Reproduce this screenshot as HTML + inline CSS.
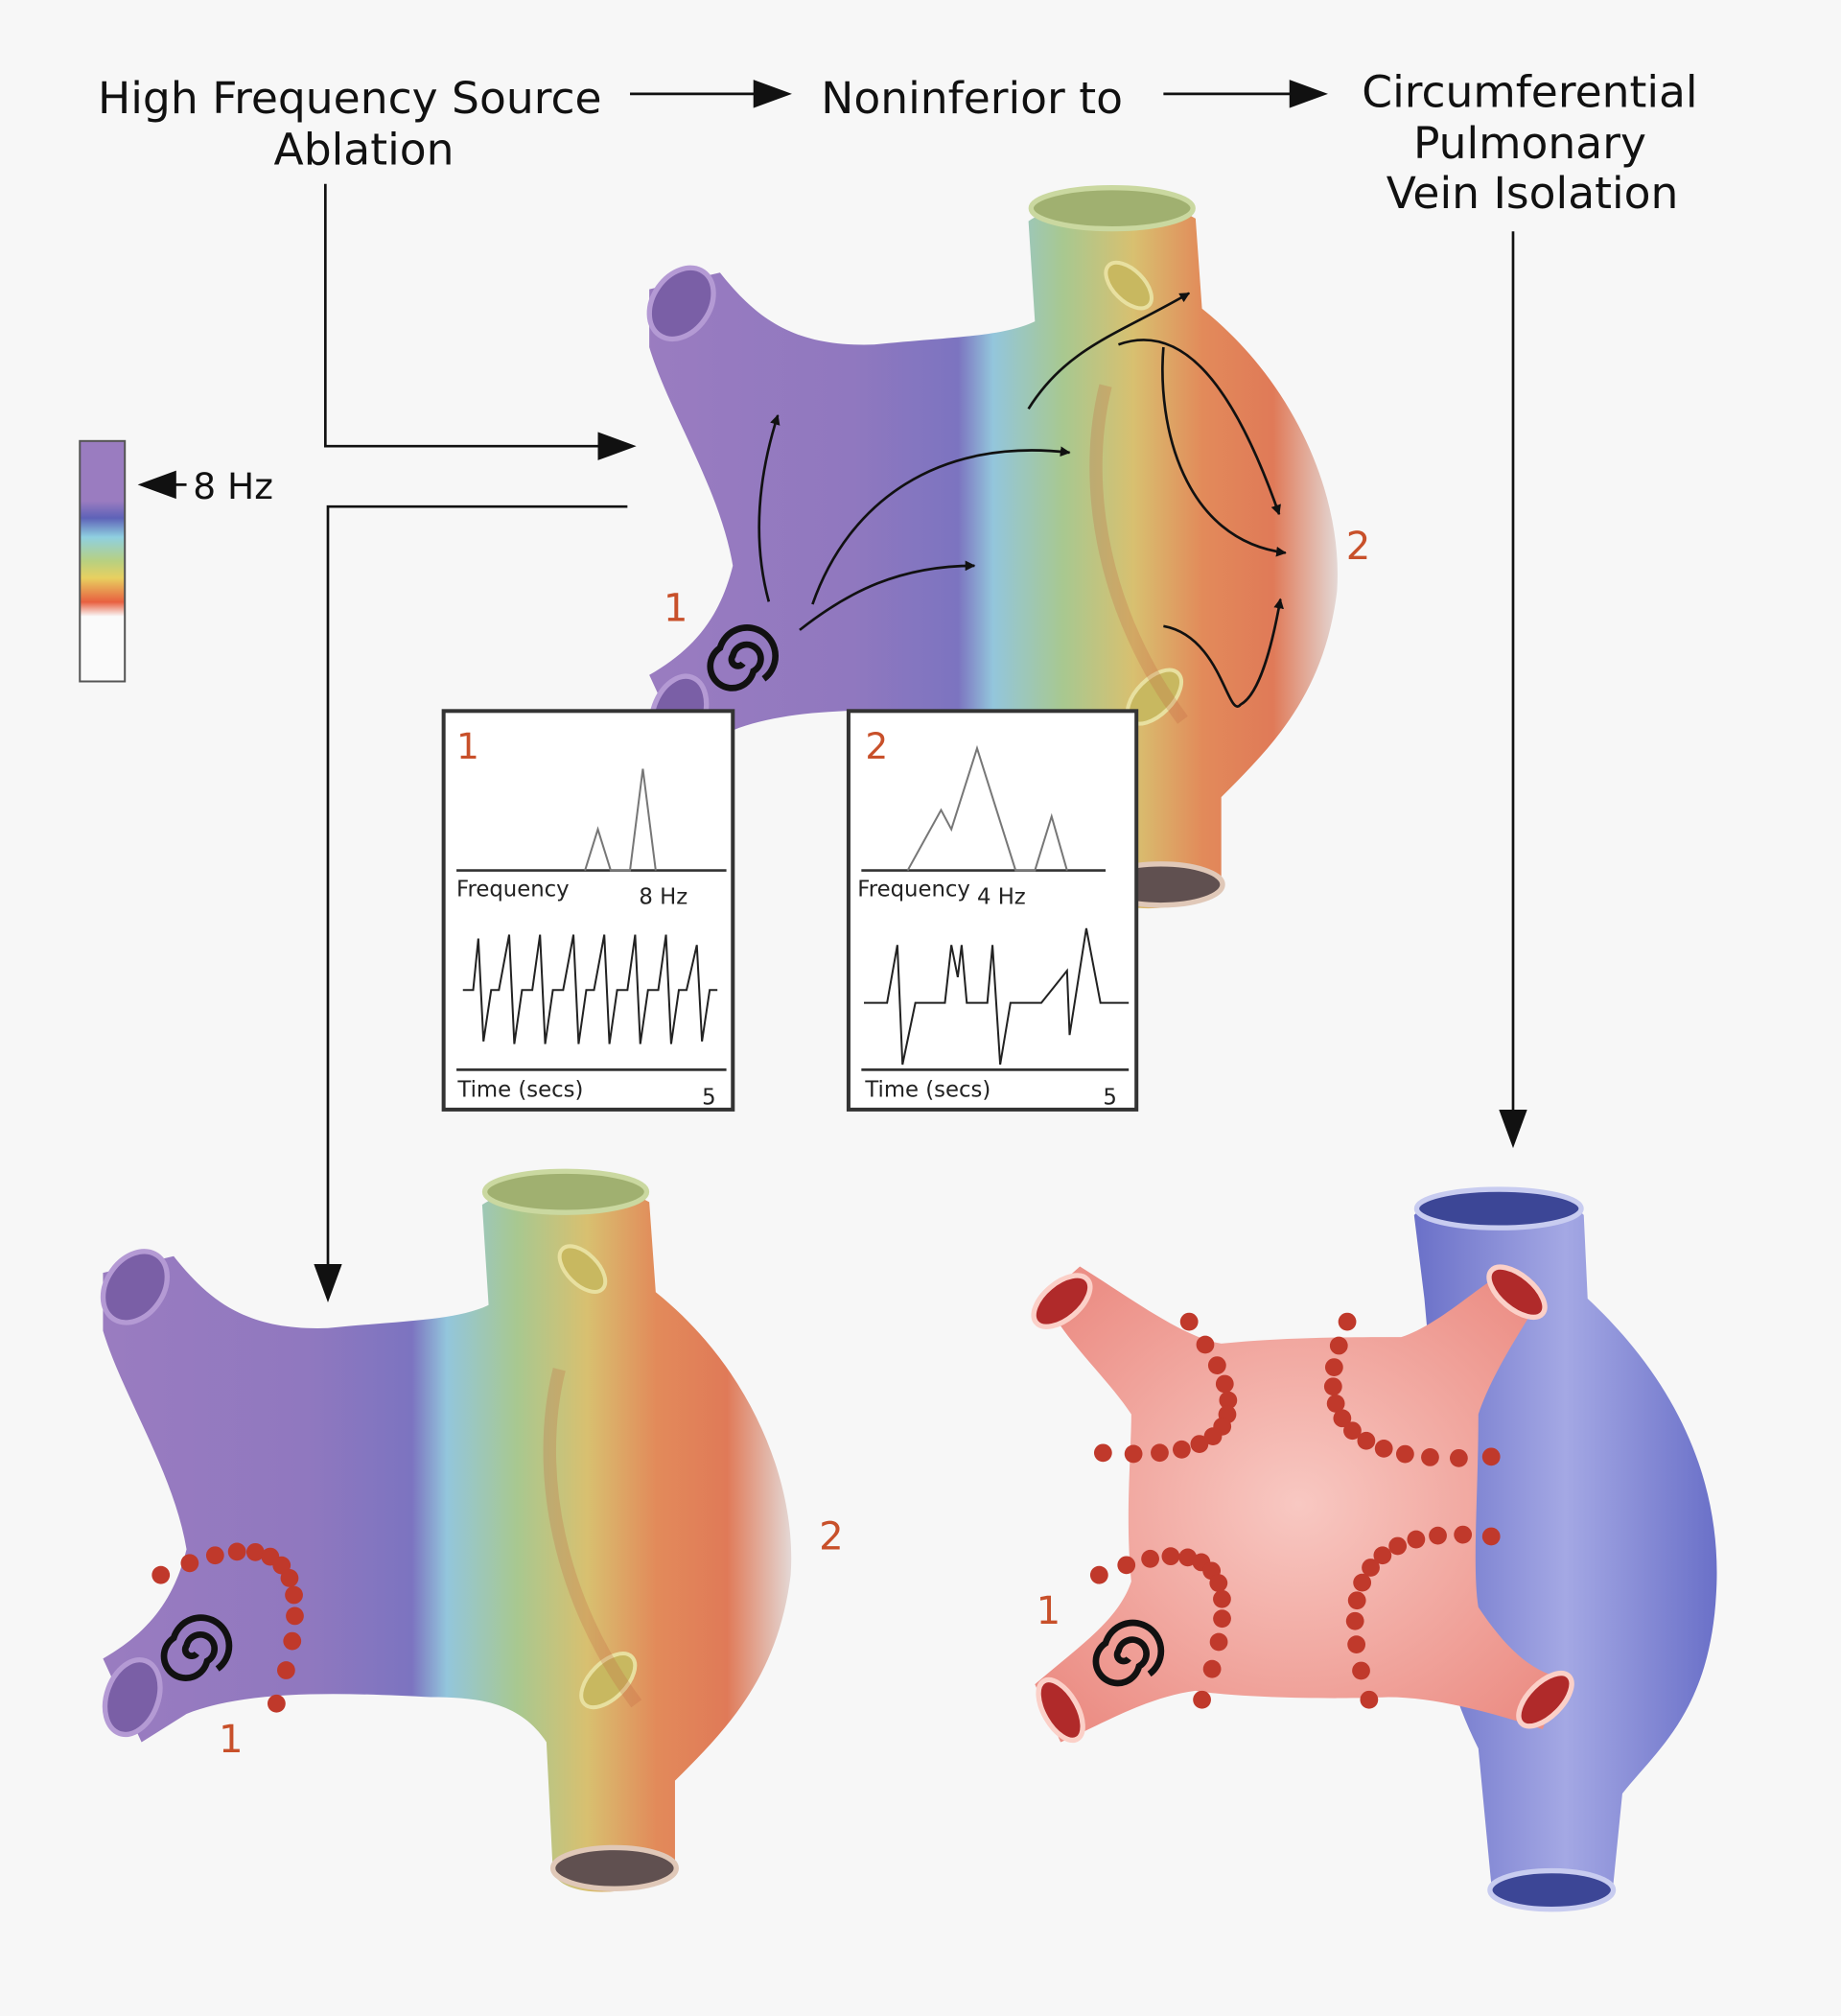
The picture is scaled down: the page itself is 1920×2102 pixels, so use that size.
<!DOCTYPE html>
<html><head><meta charset="utf-8"><style>
html,body{margin:0;padding:0;background:#f7f7f7;}
svg{display:block;}
text{font-family:"DejaVu Sans","Liberation Sans",sans-serif;}
</style></head><body>
<svg id="s" width="1920" height="2102" viewBox="0 0 1432 1568" xmlns="http://www.w3.org/2000/svg">
<defs>
<linearGradient id="hg" x1="500" y1="0" x2="1045" y2="0" gradientUnits="userSpaceOnUse">
<stop offset="0" stop-color="#9a7cc0"/><stop offset="0.3" stop-color="#9078bf"/>
<stop offset="0.45" stop-color="#7c74c0"/><stop offset="0.5" stop-color="#93c6dc"/>
<stop offset="0.6" stop-color="#a8c890"/><stop offset="0.7" stop-color="#d8c070"/>
<stop offset="0.8" stop-color="#e28a5a"/><stop offset="0.9" stop-color="#e07a58"/>
<stop offset="1" stop-color="#e4e0e0"/></linearGradient>
<linearGradient id="cb" x1="0" y1="343" x2="0" y2="530" gradientUnits="userSpaceOnUse">
<stop offset="0" stop-color="#9a7cc0"/><stop offset="0.25" stop-color="#9a7cc0"/>
<stop offset="0.32" stop-color="#5e62b8"/><stop offset="0.4" stop-color="#8fd0e0"/>
<stop offset="0.5" stop-color="#b8d080"/><stop offset="0.57" stop-color="#e8d060"/>
<stop offset="0.67" stop-color="#e86040"/><stop offset="0.73" stop-color="#fafafa"/>
<stop offset="1" stop-color="#fafafa"/></linearGradient>
<radialGradient id="pk" cx="0.5" cy="0.5" r="0.6"><stop offset="0" stop-color="#f8c8c2"/><stop offset="1" stop-color="#ec8f86"/></radialGradient>
<linearGradient id="bl" x1="0" y1="0" x2="1" y2="0"><stop offset="0" stop-color="#6a70c8"/><stop offset="0.5" stop-color="#a4a8e4"/><stop offset="1" stop-color="#6a70c8"/></linearGradient>
<marker id="ar" viewBox="0 0 10 10" refX="9" refY="5" markerWidth="8" markerHeight="8" orient="auto" markerUnits="userSpaceOnUse"><path d="M0,0L10,5L0,10z" fill="#111"/></marker>
<marker id="ab" viewBox="0 0 10 10" refX="9" refY="5" markerWidth="30" markerHeight="22" orient="auto" markerUnits="userSpaceOnUse" preserveAspectRatio="none"><path d="M0,0L10,5L0,10z" fill="#111"/></marker>
<g id="heart">
<path d="M505,225 L560,212 C590,250 620,270 680,268 C740,262 780,262 805,250 L800,172 C830,152 900,152 930,170 L935,240 C1010,300 1045,390 1040,460 C1030,540 990,580 950,620 L950,690 C920,712 860,712 855,690 L850,590 C830,560 800,555 760,555 C700,552 620,548 570,568 L535,590 L505,525 C540,505 560,480 570,440 C560,380 520,320 505,270 Z"/>
</g>
<g id="heartfull">
<use href="#heart" fill="url(#hg)"/>
<ellipse cx="530" cy="236" rx="22" ry="30" transform="rotate(35 530 236)" fill="#7a5fa6" stroke="#b49ad4" stroke-width="4"/>
<ellipse cx="528" cy="555" rx="20" ry="30" transform="rotate(20 528 555)" fill="#7a5fa6" stroke="#b49ad4" stroke-width="4"/>
<ellipse cx="865" cy="162" rx="63" ry="16" fill="#a0b070" stroke="#cad8a0" stroke-width="4"/>
<ellipse cx="903" cy="688" rx="48" ry="16" fill="#605050" stroke="#e0c8b8" stroke-width="4"/>
<ellipse cx="878" cy="222" rx="12" ry="22" transform="rotate(-45 878 222)" fill="#c8b860" stroke="#e8e0a0" stroke-width="3"/>
<ellipse cx="898" cy="542" rx="14" ry="26" transform="rotate(45 898 542)" fill="#c8b860" stroke="#e8e0a0" stroke-width="3"/>
<path d="M860,300 C840,380 860,480 920,560" stroke="#c06040" stroke-opacity="0.25" stroke-width="10" fill="none"/>
</g>
</defs>

<!-- titles -->
<g font-size="34" fill="#111" text-anchor="middle">
<text x="272" y="88">High Frequency Source</text><text x="283" y="128">Ablation</text>
<text x="756" y="88">Noninferior to</text>
<text x="1190" y="83">Circumferential</text><text x="1190" y="123">Pulmonary</text><text x="1192" y="162">Vein Isolation</text>
</g>
<g stroke="#111" stroke-width="2" fill="none">
<line x1="490" y1="73" x2="613" y2="73" marker-end="url(#ab)"/>
<line x1="905" y1="73" x2="1030" y2="73" marker-end="url(#ab)"/>
<polyline points="253,143 253,347 492,347" marker-end="url(#ab)"/>
<polyline points="488,394 255,394 255,1010" marker-end="url(#ab)"/>
<line x1="1177" y1="180" x2="1177" y2="890" marker-end="url(#ab)"/>
</g>

<!-- color bar -->
<rect x="62" y="343" width="35" height="187" fill="url(#cb)" stroke="#555" stroke-width="1.5"/>
<line x1="145" y1="377" x2="110" y2="377" stroke="#111" stroke-width="2" marker-end="url(#ab)"/>
<text x="150" y="388" font-size="28" fill="#111">8 Hz</text>

<!-- top heart -->
<use href="#heartfull"/>
<g stroke="#111" stroke-width="2" fill="none" marker-end="url(#ar)">
<path d="M598,468 C585,420 590,370 605,323"/>
<path d="M632,470 C660,390 730,340 832,352"/>
<path d="M622,490 C660,460 700,440 758,440"/>
<path d="M800,318 C830,270 870,260 925,228"/>
<path d="M870,268 C920,250 960,300 995,400"/>
<path d="M905,270 C900,330 920,420 1000,430"/>
<path d="M905,487 C950,495 955,560 965,548 C980,540 990,500 996,466"/>
</g>
<g fill="none" stroke="#111" stroke-width="5"><path d="M578,516 a5,5 0 1 1 -8,-6 a11,11 0 1 1 16,12 a17,17 0 1 1 -26,-18 a22,22 0 1 1 34,24"/></g>
<text x="516" y="483" font-size="30" fill="#c8502a">1</text>
<text x="1047" y="435" font-size="30" fill="#c8502a">2</text>

<!-- boxes -->
<g>
<rect x="345" y="553" width="225" height="310" fill="#fff" stroke="#333" stroke-width="3"/>
<text x="355" y="590" font-size="28" fill="#c8502a">1</text>
<line x1="355" y1="677" x2="565" y2="677" stroke="#333" stroke-width="2"/>
<polyline points="455,677 465,645 475,677 490,677 500,598 510,677" fill="none" stroke="#777" stroke-width="1.5"/>
<text x="355" y="697" font-size="17" fill="#222">Frequency</text>
<text x="497" y="703" font-size="17" fill="#222">8  Hz</text>
<polyline fill="none" stroke="#222" stroke-width="1.5" points="360,770 368,770 372,730 376,810 382,770 388,770 396,727 400,812 406,770 414,770 420,727 424,812 430,770 438,770 446,727 450,812 456,770 462,770 470,727 474,812 480,770 488,770 494,727 498,812 504,770 512,770 518,727 522,812 528,770 534,770 542,735 546,810 552,770 558,770"/>
<line x1="355" y1="832" x2="565" y2="832" stroke="#333" stroke-width="2"/>
<text x="356" y="853" font-size="17" fill="#222">Time (secs)</text>
<text x="546" y="859" font-size="17" fill="#222">5</text>

<rect x="660" y="553" width="224" height="310" fill="#fff" stroke="#333" stroke-width="3"/>
<text x="673" y="590" font-size="28" fill="#c8502a">2</text>
<line x1="670" y1="677" x2="860" y2="677" stroke="#333" stroke-width="2"/>
<polyline points="706,677 732,630 740,645 760,582 790,677 805,677 818,635 830,677" fill="none" stroke="#777" stroke-width="1.5"/>
<text x="667" y="697" font-size="17" fill="#222">Frequency</text>
<text x="760" y="703" font-size="17" fill="#222">4 Hz</text>
<polyline fill="none" stroke="#222" stroke-width="1.5" points="672,780 690,780 698,735 702,828 712,780 735,780 740,735 745,760 748,735 752,780 768,780 772,735 778,828 786,780 810,780 830,755 832,805 845,722 856,780 878,780"/>
<line x1="670" y1="832" x2="878" y2="832" stroke="#333" stroke-width="2"/>
<text x="673" y="853" font-size="17" fill="#222">Time (secs)</text>
<text x="858" y="859" font-size="17" fill="#222">5</text>
</g>

<!-- bottom-left heart -->
<use href="#heartfull" transform="translate(-425,765)"/>
<g fill="none" stroke="#111" stroke-width="5"><path d="M153,1286 a5,5 0 1 1 -8,-6 a11,11 0 1 1 16,12 a17,17 0 1 1 -26,-18 a22,22 0 1 1 34,24"/></g>
<text x="170" y="1363" font-size="30" fill="#c8502a">1</text>
<text x="637" y="1205" font-size="30" fill="#c8502a">2</text>

<!-- bottom-right -->
<path d="M1100,945 C1130,920 1210,920 1232,945 L1235,1010 C1310,1080 1340,1160 1335,1240 C1330,1330 1290,1360 1262,1395 L1255,1465 C1230,1490 1170,1490 1160,1465 L1150,1360 C1120,1300 1115,1250 1125,1200 L1108,1010 Z" fill="url(#bl)"/>
<ellipse cx="1166" cy="940" rx="64" ry="15" fill="#3c4696" stroke="#c8ccf0" stroke-width="4"/>
<ellipse cx="1207" cy="1470" rx="48" ry="15" fill="#3c4696" stroke="#c8ccf0" stroke-width="4"/>
<path d="M812,1010 L840,985 C880,1010 920,1040 950,1045 C1000,1040 1050,1040 1090,1040 C1120,1030 1150,1000 1170,990 L1195,1015 C1180,1040 1160,1070 1150,1100 C1150,1160 1145,1220 1150,1250 C1170,1280 1190,1300 1215,1305 L1200,1345 C1170,1335 1120,1320 1080,1320 C1030,1322 960,1320 930,1315 C890,1320 850,1345 825,1355 L805,1310 C840,1280 870,1260 880,1230 C875,1180 880,1130 880,1100 C860,1070 830,1045 812,1010 Z" fill="url(#pk)"/>
<g fill="#b02a2a" stroke="#fbd0c8" stroke-width="4">
<ellipse cx="826" cy="1012" rx="14" ry="26" transform="rotate(50 826 1012)"/>
<ellipse cx="1180" cy="1005" rx="13" ry="26" transform="rotate(-50 1180 1005)"/>
<ellipse cx="825" cy="1330" rx="13" ry="26" transform="rotate(-30 825 1330)"/>
<ellipse cx="1202" cy="1322" rx="13" ry="26" transform="rotate(45 1202 1322)"/>
</g>
<g fill="none" stroke="#111" stroke-width="5"><path d="M878,1290 a5,5 0 1 1 -8,-6 a11,11 0 1 1 16,12 a17,17 0 1 1 -26,-18 a22,22 0 1 1 34,24"/></g>
<text x="806" y="1263" font-size="30" fill="#c8502a">1</text>
<g id="dots" fill="#c0392b"></g>
</svg>
<script>
var g=document.getElementById('dots');
function arc(x0,y0,cx,cy,x1,y1,n){for(var i=0;i<n;i++){var t=i/(n-1),u=1-t;var x=u*u*x0+2*u*t*cx+t*t*x1,y=u*u*y0+2*u*t*cy+t*t*y1;var c=document.createElementNS('http://www.w3.org/2000/svg','circle');c.setAttribute('cx',x);c.setAttribute('cy',y);c.setAttribute('r',7);g.appendChild(c);}}
arc(925,1028,1010,1140,858,1130,13);
arc(1048,1028,1000,1145,1160,1133,13);
arc(855,1225,990,1170,935,1322,13);
arc(1160,1195,1020,1180,1065,1322,13);
arc(125,1225,268,1160,215,1325,13);
</script>
</body></html>
